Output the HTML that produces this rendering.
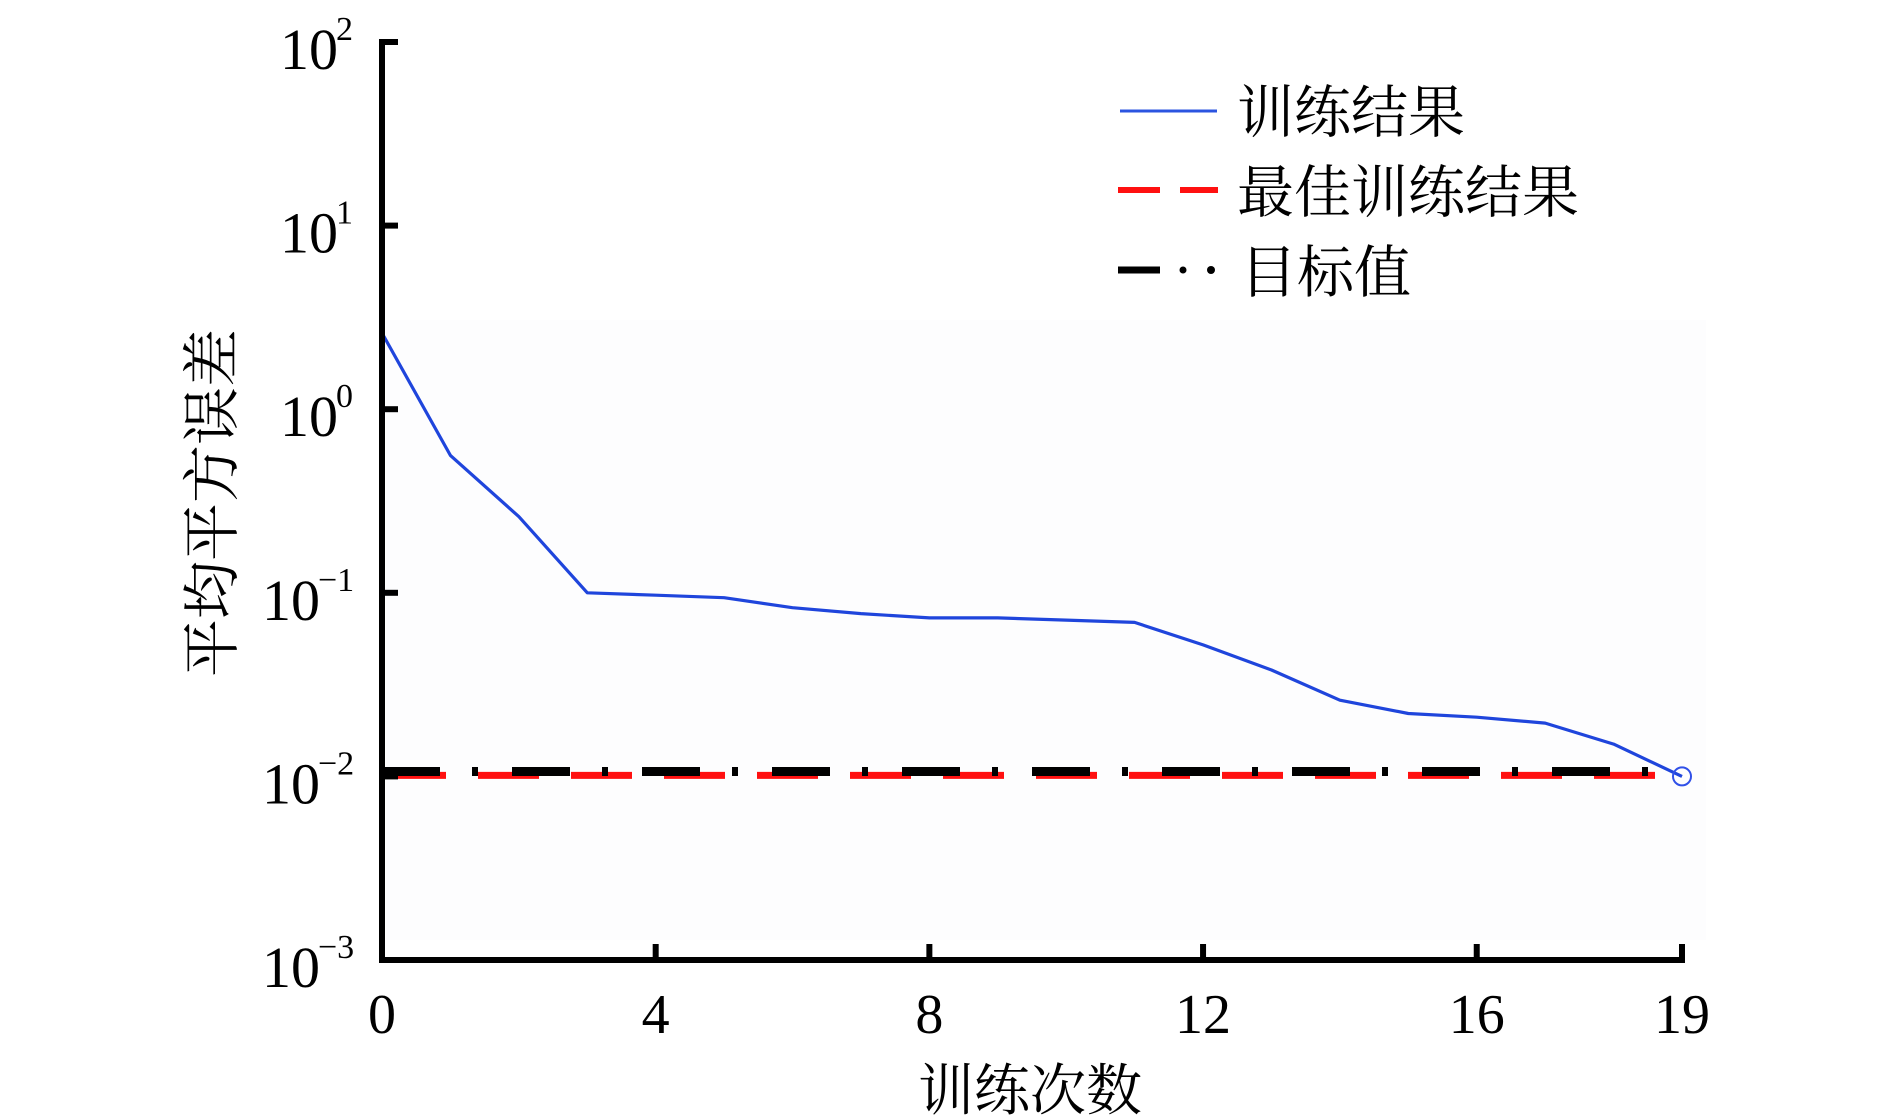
<!DOCTYPE html>
<html><head><meta charset="utf-8">
<style>
html,body{margin:0;padding:0;background:#fff;}
svg{display:block;}
text{font-family:"Liberation Serif","Noto Serif CJK SC",serif;fill:#000;}
</style></head>
<body>
<svg id="chart" width="1890" height="1120" viewBox="0 0 1890 1120" xmlns="http://www.w3.org/2000/svg">
<rect x="386" y="320" width="1320" height="620" fill="#fdfdfe"/>
<g id="series"></g>
<g id="axes"></g>
<g id="legend">
  <line x1="1120" y1="111" x2="1217" y2="111" stroke="#2b54e0" stroke-width="3"/>
  <text x="1237" y="132" font-size="57">训练结果</text>
  <line x1="1118" y1="190" x2="1218" y2="190" stroke="#ff1010" stroke-width="6" stroke-dasharray="42,20"/>
  <text x="1237" y="212" font-size="57">最佳训练结果</text>
  <line x1="1118" y1="270" x2="1160" y2="270" stroke="#000" stroke-width="7"/>
  <circle cx="1183" cy="270" r="3.5" fill="#000"/>
  <circle cx="1211" cy="270" r="4" fill="#000"/>
  <text x="1240" y="292" font-size="57">目标值</text>
</g>
<text x="1030" y="1110" font-size="56" text-anchor="middle">训练次数</text>
<text transform="translate(232,503) rotate(-90)" font-size="58" text-anchor="middle">平均平方误差</text>
</svg>
<script>
const epochs = [0,1,2,3,4,5,6,7,8,9,10,11,12,13,14,15,16,17,18,19];
const mse = [2.6,0.56,0.26,0.1,0.097,0.094,0.083,0.077,0.073,0.073,0.071,0.069,0.052,0.038,0.026,0.022,0.021,0.0195,0.015,0.010];
const bestValue = [0.01];
const goalValue = [0.0105];
const xTicks = [0,4,8,12,16,19];
const yTickExps = [2,1,0,-1,-2,-3];

const NS = "http://www.w3.org/2000/svg";
const X0 = 382, X1 = 1682, Y0 = 960, Y1 = 42;
const xMin = 0, xMax = 19, lMin = -3, lMax = 2;
function xs(v){ return X0 + (v - xMin) / (xMax - xMin) * (X1 - X0); }
function ys(v){ return Y0 - (Math.log10(v) - lMin) / (lMax - lMin) * (Y0 - Y1); }
function mk(tag, attrs){ const e = document.createElementNS(NS, tag); for (const k in attrs) e.setAttribute(k, attrs[k]); return e; }

const series = document.getElementById('series');
const axes = document.getElementById('axes');

const best = mk('line', {x1: X0, x2: X1, y1: ys(bestValue[0]) - 1, y2: ys(bestValue[0]) - 1, stroke: '#ff1010', 'stroke-width': 7, 'stroke-dasharray': '61,32', 'stroke-dashoffset': '-3'});


series.appendChild(best);

const gy = ys(goalValue[0]) - 1;
const goal = mk('line', {x1: X0, x2: X1, y1: gy, y2: gy, stroke: '#000', 'stroke-width': 9, 'stroke-dasharray': '58,32,6,34', 'stroke-linecap': 'butt'});


series.appendChild(goal);

const pts = epochs.map((e, i) => xs(e).toFixed(1) + ',' + ys(mse[i]).toFixed(1)).join(' ');
const curve = mk('polyline', {points: pts, fill: 'none', stroke: '#1f45dc', 'stroke-width': 3.2, 'stroke-linejoin': 'round'});


series.appendChild(curve);

const last = epochs.length - 1;
const marker = mk('circle', {cx: xs(epochs[last]), cy: ys(mse[last]), r: 9, fill: 'none', stroke: '#3050e8', 'stroke-width': 2});


series.appendChild(marker);

const yAxis = mk('line', {x1: X0, x2: X0, y1: Y1 - 3, y2: Y0 + 3, stroke: '#000', 'stroke-width': 6});


axes.appendChild(yAxis);
const xAxis = mk('line', {x1: X0 - 3, x2: X1 + 3, y1: Y0, y2: Y0, stroke: '#000', 'stroke-width': 6});


axes.appendChild(xAxis);

yTickExps.forEach(function(p){
  const y = ys(Math.pow(10, p));
  const t = mk('line', {x1: X0, x2: X0 + 16, y1: y, y2: y, stroke: '#000', 'stroke-width': 6});
  
  
  axes.appendChild(t);
  const supText = p < 0 ? '\u2212' + (-p) : String(p);
  const supW = p < 0 ? 36 : 18;
  const lab = mk('text', {x: X0 - 26 - supW, y: y + 27, 'font-size': 58, 'text-anchor': 'end'});
  
  
  lab.textContent = '10';
  axes.appendChild(lab);
  const sup = mk('text', {x: X0 - 28 - supW, y: y - 2, 'font-size': 34, 'text-anchor': 'start'});
  
  
  sup.textContent = supText;
  axes.appendChild(sup);
});

xTicks.forEach(function(v){
  const x = xs(v);
  const t = mk('line', {x1: x, x2: x, y1: Y0, y2: Y0 - 16, stroke: '#000', 'stroke-width': 6});
  
  
  axes.appendChild(t);
  const lab = mk('text', {x: x, y: Y0 + 73, 'font-size': 56, 'text-anchor': 'middle'});
  
  
  lab.textContent = String(v);
  axes.appendChild(lab);
});
</script>
</body></html>
